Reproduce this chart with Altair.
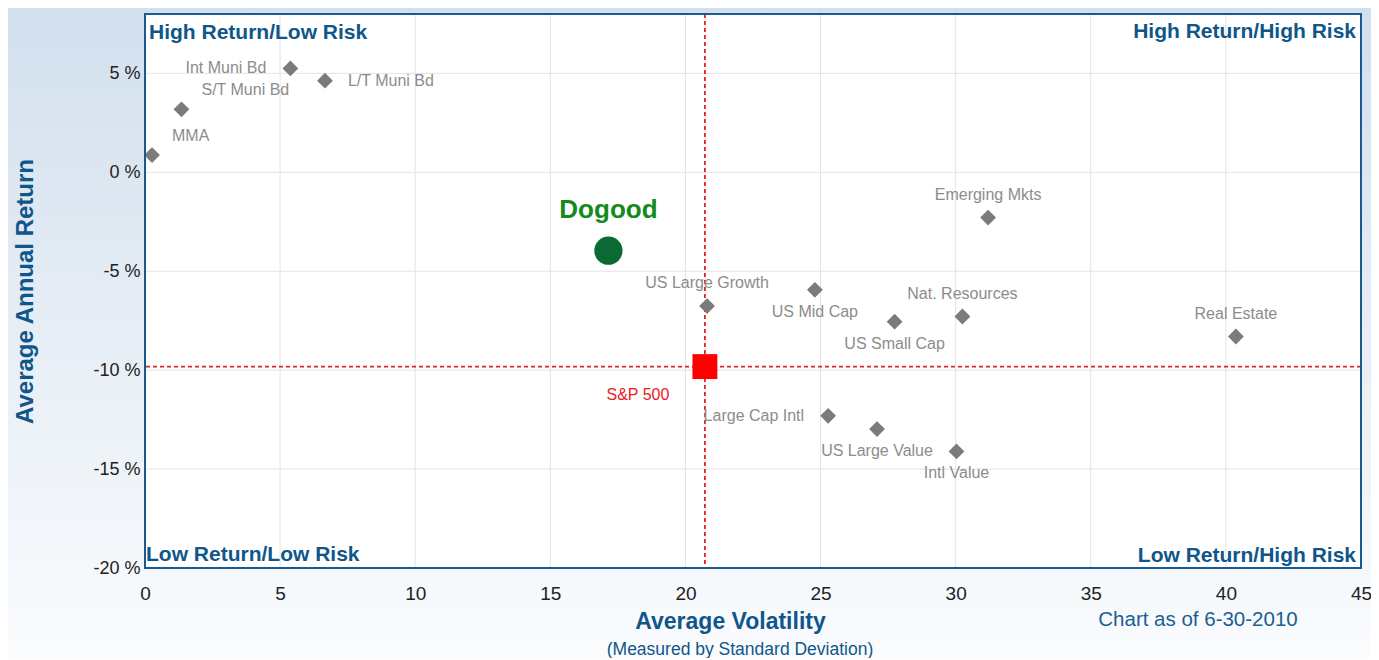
import altair as alt
import pandas as pd

# ---------------- data ----------------
names = ["MMA", "S/T Muni Bd", "Int Muni Bd", "L/T Muni Bd", "US Large Growth",
         "US Mid Cap", "US Small Cap", "Nat. Resources", "Emerging Mkts",
         "Real Estate", "Large Cap Intl", "US Large Value", "Intl Value"]
volatility = [0.26, 1.35, 5.38, 6.66, 20.80, 24.79, 27.74, 30.25, 31.20,
              40.37, 25.28, 27.09, 30.03]
returns = [0.87, 3.18, 5.25, 4.63, -6.76, -5.94, -7.55, -7.29, -2.29,
           -8.30, -12.31, -12.98, -14.11]

fund_name = ["Dogood"]
fund_vol = [17.15]
fund_ret = [-3.96]

bench_name = ["S&P 500"]
bench_vol = [20.72]
bench_ret = [-9.82]

x_ticks = [0, 5, 10, 15, 20, 25, 30, 35, 40, 45]
y_ticks = [-20, -15, -10, -5, 0, 5]
x_domain = [0, 45]
y_domain = [-20, 8]

quadrants = ["High Return/Low Risk", "High Return/High Risk",
             "Low Return/Low Risk", "Low Return/High Risk"]
x_title = "Average Volatility"
x_subtitle = "(Measured by Standard Deviation)"
y_title = "Average Annual Return"
note = "Chart as of 6-30-2010"

# ---------------- tables ----------------
assets = pd.DataFrame({"name": names, "vol": volatility, "ret": returns})
fund = pd.DataFrame({"name": fund_name, "vol": fund_vol, "ret": fund_ret})
bench = pd.DataFrame({"name": bench_name, "vol": bench_vol, "ret": bench_ret})
vgrid = pd.DataFrame({"vol": x_ticks})
hgrid = pd.DataFrame({"ret": y_ticks})
one = alt.Data(values=[{"k": 1}])

W, H = 1216, 554
PAD = {"left": 137, "top": 6, "right": 10, "bottom": 90}

BLUE = "#0f568a"
GRAY_TXT = "#8c8c8c"
FONT = "Liberation Sans"

xs = alt.Scale(domain=x_domain, nice=False, zero=False)
ys = alt.Scale(domain=y_domain, nice=False, zero=False)

x_axis = alt.Axis(values=x_ticks, grid=False, domain=False, ticks=False,
                  labelFontSize=19, labelPadding=16, labelColor="#222222",
                  labelFont=FONT, labelOverlap=False, labelFlush=False, zindex=1,
                  title=x_title, titleFontSize=23, titleFontWeight="bold",
                  titleColor=BLUE, titleFont=FONT, titleX=585, titleY=53,
                  titleBaseline="middle", titleAlign="center")
y_axis = alt.Axis(values=y_ticks, grid=False, domain=False, ticks=False,
                  labelExpr="datum.value + ' %'", labelFontSize=18,
                  labelPadding=5, labelColor="#222222", labelFont=FONT,
                  labelOverlap=False, labelFlush=False, zindex=1,
                  title=y_title, titleFontSize=24, titleFontWeight="bold",
                  titleColor=BLUE, titleFont=FONT, titleX=-120, titleY=277,
                  titleAngle=270, titleBaseline="middle", titleAlign="center")

X = alt.X("vol:Q", scale=xs, axis=x_axis)
Y = alt.Y("ret:Q", scale=ys, axis=y_axis)

# background gradient (outside the plot area) and white plot area
grad = alt.LinearGradient(
    gradient="linear", x1=0, y1=0, x2=0, y2=1,
    stops=[alt.GradientStop(offset=0, color="#d2dfed"),
           alt.GradientStop(offset=0.55, color="#e9eff6"),
           alt.GradientStop(offset=1, color="#fafcfe")])
bg = alt.Chart(one).mark_rect(fill=grad).encode(
    x=alt.value(-PAD["left"]), x2=alt.value(W + PAD["right"]),
    y=alt.value(-PAD["top"]), y2=alt.value(H + PAD["bottom"]))
plot_bg = alt.Chart(one).mark_rect(fill="white").encode(
    x=alt.value(0), x2=alt.value(W), y=alt.value(0), y2=alt.value(H))

grid_v = alt.Chart(vgrid).mark_rule(color="#e3e3e3", strokeWidth=1).encode(x=X)
grid_h = alt.Chart(hgrid).mark_rule(color="#e3e3e3", strokeWidth=1).encode(y=Y)

red_v = alt.Chart(bench).mark_rule(color="#e82020", strokeWidth=1.8,
                                   strokeDash=[4, 3]).encode(x=X)
red_h = alt.Chart(bench).mark_rule(color="#e82020", strokeWidth=1.8,
                                   strokeDash=[4, 3]).encode(y=Y)

diamonds = alt.Chart(assets).mark_point(shape="diamond", filled=True, size=250,
                                        color="#7b7b7b", opacity=1).encode(x=X, y=Y)


def labels(members, **kw):
    base = dict(fontSize=16, color=GRAY_TXT, font=FONT, baseline="middle")
    base.update(kw)
    return alt.Chart(assets).transform_filter(
        alt.FieldOneOfPredicate(field="name", oneOf=members)
    ).mark_text(**base).encode(x=X, y=Y, text="name:N")


lab_above = labels(["US Large Growth", "Nat. Resources", "Emerging Mkts", "Real Estate"],
                   align="center", dy=-23)
lab_below = labels(["US Mid Cap", "US Small Cap", "US Large Value", "Intl Value"],
                   align="center", dy=22)
lab_left = labels(["Int Muni Bd", "Large Cap Intl"], align="right", dx=-24)
lab_right = labels(["L/T Muni Bd"], align="left", dx=23)
lab_upright = labels(["MMA", "S/T Muni Bd"], align="left", dx=20, dy=-19)

fund_pt = alt.Chart(fund).mark_circle(size=800, color="#0b6a33", opacity=1).encode(x=X, y=Y)
fund_lab = alt.Chart(fund).mark_text(fontSize=26, fontWeight="bold", color="#138a1c",
                                     font=FONT, dy=-41, baseline="middle").encode(
    x=X, y=Y, text="name:N")

bench_pt = alt.Chart(bench).mark_square(size=620, color="#ff0000", opacity=1).encode(x=X, y=Y)
bench_lab = alt.Chart(bench).mark_text(fontSize=16, color="#e8201e", font=FONT,
                                       dx=-67, dy=28, baseline="middle").encode(
    x=X, y=Y, text="name:N")

# quadrant captions in the four corners of the plot
qstyle = dict(fontSize=21, fontWeight="bold", color=BLUE, font=FONT, baseline="middle")
q_tl = alt.Chart(one).mark_text(align="left", **qstyle).encode(
    x=alt.value(4), y=alt.value(19), text=alt.value(quadrants[0]))
q_tr = alt.Chart(one).mark_text(align="right", **qstyle).encode(
    x=alt.value(W - 5), y=alt.value(18), text=alt.value(quadrants[1]))
q_bl = alt.Chart(one).mark_text(align="left", **qstyle).encode(
    x=alt.value(1), y=alt.value(H - 13), text=alt.value(quadrants[2]))
q_br = alt.Chart(one).mark_text(align="right", **qstyle).encode(
    x=alt.value(W - 5), y=alt.value(H - 12), text=alt.value(quadrants[3]))

sub = alt.Chart(one).mark_text(align="center", baseline="middle", fontSize=17.5,
                               color=BLUE, font=FONT).encode(
    x=alt.value(595), y=alt.value(H + 82), text=alt.value(x_subtitle))
note_t = alt.Chart(one).mark_text(align="center", baseline="middle", fontSize=20.5,
                                  color="#1a5f94", font=FONT).encode(
    x=alt.value(1053), y=alt.value(H + 52), text=alt.value(note))

border = alt.Chart(one).mark_rect(fillOpacity=0, stroke="#1b5a8c", strokeWidth=2).encode(
    x=alt.value(0), x2=alt.value(W), y=alt.value(0), y2=alt.value(H))

chart = alt.layer(
    bg, plot_bg, grid_v, grid_h, red_v, red_h, diamonds,
    lab_above, lab_below, lab_left, lab_right, lab_upright,
    fund_pt, fund_lab, bench_pt, bench_lab,
    q_tl, q_tr, q_bl, q_br, sub, note_t, border
).properties(
    width=W, height=H,
    autosize=alt.AutoSizeParams(type="none"),
    padding=PAD,
    background="#e6edf5",
).configure_view(strokeWidth=0, fill="white").configure(font=FONT)

chart.save("out.html", embed_options={"renderer": "svg", "actions": False})
